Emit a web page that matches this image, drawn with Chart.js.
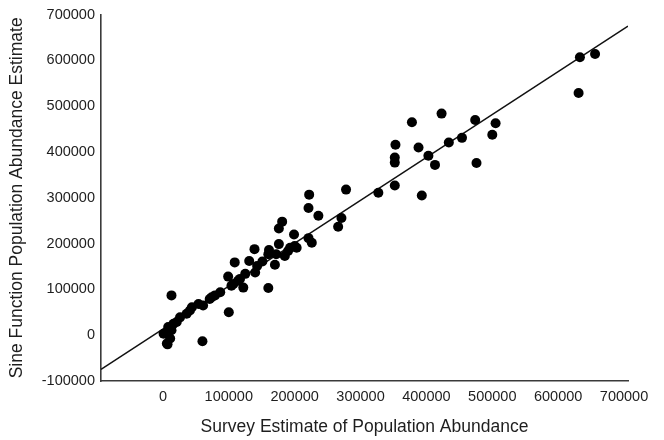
<!DOCTYPE html>
<html>
<head>
<meta charset="utf-8">
<script src="https://cdn.jsdelivr.net/npm/chart.js@4/dist/chart.umd.min.js"></script>
<style>
  html, body { margin: 0; padding: 0; background: #fff; }
  #wrap { width: 664px; height: 440px; }
</style>
</head>
<body>
<div id="wrap"><canvas id="abundanceChart" width="664" height="440"></canvas></div>
<script>
// survey estimate (x) vs sine-function estimate (y), one entry per population
const surveyEstimates = [
    633000, 656000, 631000,
    423000, 378000, 474000, 505000, 500000, 454000, 434000, 353000, 388000, 403000,
    352000, 352000, 413000, 476000, 352000, 327000, 393000, 278000, 222000, 221000,
    236000, 271000, 266000,
    181000, 176000, 199000, 221000, 226000, 176000, 139000, 161000, 193000, 200000,
    172000, 109000, 131000, 151000, 170000, 140000, 125000, 99000, 114000, 104000,
    122000, 160000, 87000, 74000, 100000, 13000, 60000,
    1000, 6000, 7000, 11000, 13000, 8000, 16000, 21000, 26000, 36000, 44000, 54000,
    61000, 71000, 107000, 41000, 117000, 160000, 190000, 203000, 79000, 143000, 185000
];
const sineEstimates = [
    607000, 614000, 529000,
    484000, 465000, 470000, 463000, 438000, 431000, 421000, 416000, 410000, 392000,
    388000, 377000, 372000, 376000, 327000, 311000, 305000, 318000, 307000, 278000,
    261000, 256000, 237000,
    248000, 233000, 220000, 212000, 202000, 199000, 188000, 186000, 191000, 195000,
    177000, 159000, 162000, 161000, 154000, 137000, 134000, 128000, 119000, 108000,
    104000, 103000, 94000, 83000, 50000, 87000, -13000,
    3000, -18000, -20000, -7000, 11000, 18000, 25000, 29000, 39000, 47000, 61000, 68000,
    65000, 79000, 112000, 54000, 123000, 177000, 184000, 191000, 87000, 151000, 173000
];

// fitted regression line
const fitSlope = 0.937;
const fitIntercept = 13500;

const xTicks = [0, 100000, 200000, 300000, 400000, 500000, 600000, 700000];
const yTicks = [-100000, 0, 100000, 200000, 300000, 400000, 500000, 600000, 700000];
const xMin = -94000, xMax = 706000;
const yMin = -100000, yMax = 700000;

const points = surveyEstimates.map((x, i) => ({ x: x, y: sineEstimates[i] }));
const fitLine = [xMin, xMax].map(x => ({ x: x, y: fitSlope * x + fitIntercept }));

const textColor = '#1e1e1e';
const axisColor = '#3a3a3a';
const fontFamily = '"Liberation Sans", Arial, sans-serif';

new Chart(document.getElementById('abundanceChart'), {
    type: 'scatter',
    data: {
        datasets: [{
            type: 'line',
            data: fitLine,
            borderColor: '#111',
            borderWidth: 1.5,
            pointRadius: 0,
            fill: false,
            order: 2
        }, {
            data: points,
            backgroundColor: '#000',
            borderWidth: 0,
            pointRadius: 5,
            order: 1
        }]
    },
    options: {
        responsive: false,
        animation: false,
        layout: { padding: { top: 12, right: 36, left: 0, bottom: 0 } },
        plugins: {
            legend: { display: false },
            tooltip: { enabled: false }
        },
        scales: {
            x: {
                type: 'linear',
                min: xMin,
                max: xMax,
                afterBuildTicks: scale => { scale.ticks = xTicks.map(v => ({ value: v })); },
                afterFit: scale => { scale.height = 59; },
                grid: { display: false, drawTicks: false },
                border: { display: true, color: axisColor, width: 1.6 },
                ticks: {
                    padding: 7,
                    color: textColor,
                    maxRotation: 0,
                    autoSkip: false,
                    font: { family: fontFamily, size: 14.5 },
                    callback: v => String(v)
                },
                title: {
                    display: true,
                    text: 'Survey Estimate of Population Abundance',
                    color: textColor,
                    font: { family: fontFamily, size: 17.5 },
                    padding: { top: 0, bottom: 2 }
                }
            },
            y: {
                type: 'linear',
                min: yMin,
                max: yMax,
                afterBuildTicks: scale => { scale.ticks = yTicks.map(v => ({ value: v })); },
                afterFit: scale => { scale.width = 101; },
                grid: { display: false, drawTicks: false },
                border: { display: true, color: axisColor, width: 1.6 },
                ticks: {
                    padding: 6,
                    color: textColor,
                    autoSkip: false,
                    font: { family: fontFamily, size: 14.5 },
                    callback: v => String(v)
                },
                title: {
                    display: true,
                    text: 'Sine Function Population Abundance Estimate',
                    color: textColor,
                    font: { family: fontFamily, size: 17.5 },
                    padding: { top: 7, bottom: 0 }
                }
            }
        }
    }
});
</script>
</body>
</html>
